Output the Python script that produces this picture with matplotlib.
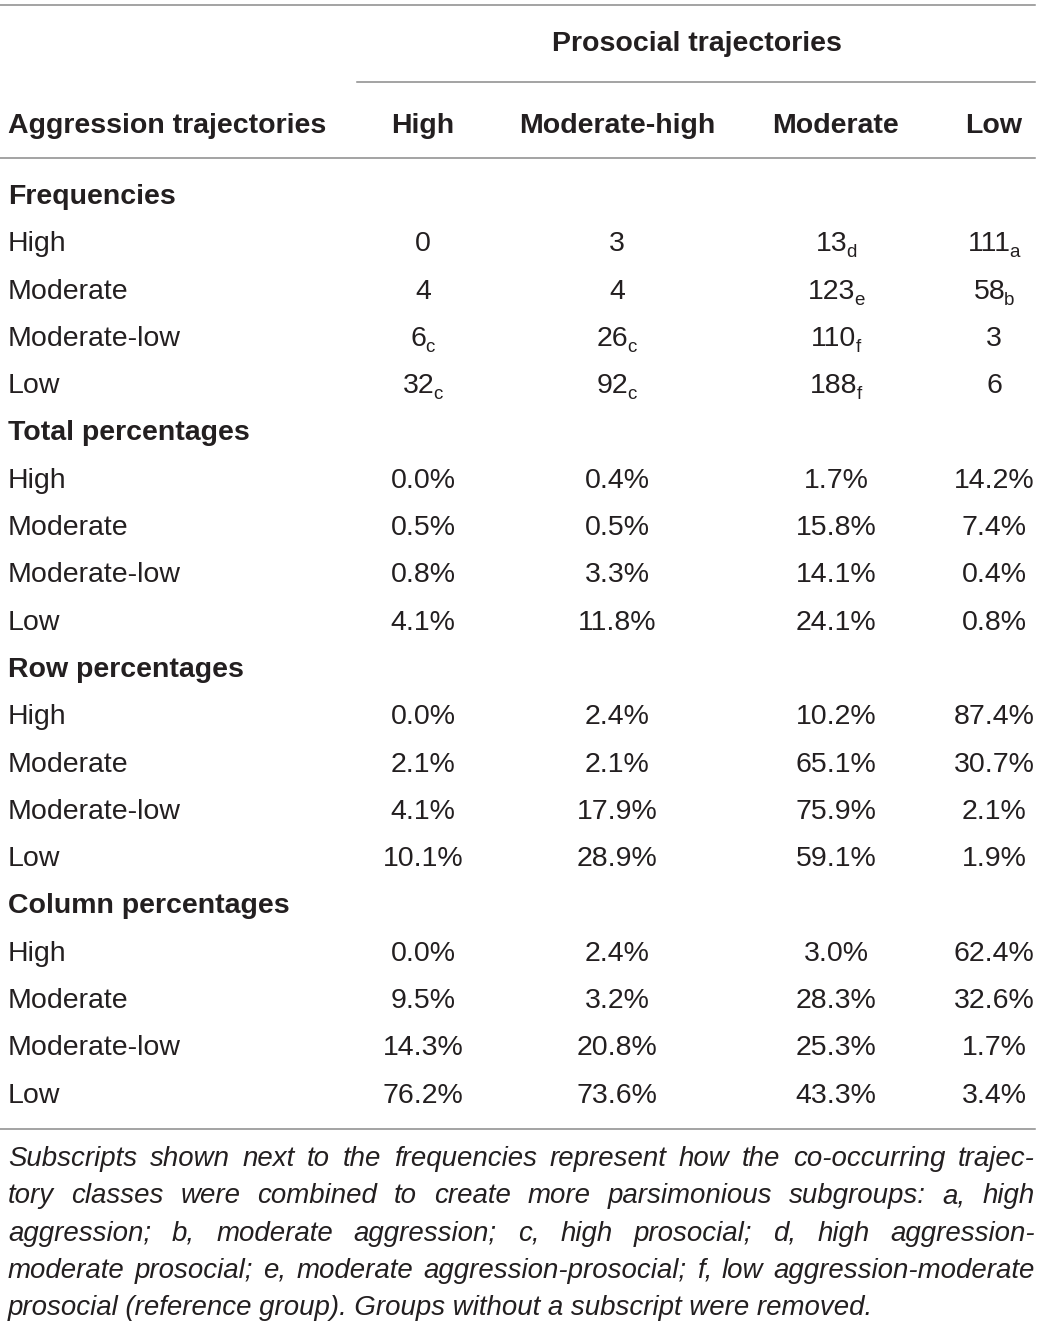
import matplotlib
matplotlib.use("Agg")
import matplotlib.pyplot as plt

# ---- table data ----
col_labels = ["High", "Moderate-high", "Moderate", "Low"]
row_labels = ["High", "Moderate", "Moderate-low", "Low"]
sections = ["Frequencies", "Total percentages", "Row percentages", "Column percentages"]

freq = [[0, 3, 13, 111], [4, 4, 123, 58], [6, 26, 110, 3], [32, 92, 188, 6]]
freq_sub = [["", "", "d", "a"], ["", "", "e", "b"], ["c", "c", "f", ""], ["c", "c", "f", ""]]
total_pct = [[0.0, 0.4, 1.7, 14.2], [0.5, 0.5, 15.8, 7.4], [0.8, 3.3, 14.1, 0.4], [4.1, 11.8, 24.1, 0.8]]
row_pct = [[0.0, 2.4, 10.2, 87.4], [2.1, 2.1, 65.1, 30.7], [4.1, 17.9, 75.9, 2.1], [10.1, 28.9, 59.1, 1.9]]
col_pct = [[0.0, 2.4, 3.0, 62.4], [9.5, 3.2, 28.3, 32.6], [14.3, 20.8, 25.3, 1.7], [76.2, 73.6, 43.3, 3.4]]

footnote = [
    "Subscripts shown next to the frequencies represent how the co-occurring trajec-",
    "tory classes were combined to create more parsimonious subgroups: a, high",
    "aggression; b, moderate aggression; c, high prosocial; d, high aggression-",
    "moderate prosocial; e, moderate aggression-prosocial; f, low aggression-moderate",
    "prosocial (reference group). Groups without a subscript were removed.",
]

W, H = 1042, 1327
FONT = "Liberation Sans"
FS = 20.5
TXT = "#231f20"
RULE = "#8a8a8a"

fig = plt.figure(figsize=(W / 100, H / 100), dpi=100)
ax = fig.add_axes([0, 0, 1, 1])
ax.set_xlim(0, W)
ax.set_ylim(H, 0)
ax.axis("off")
renderer = fig.canvas.get_renderer()

col_x = [423, 617, 836, 994]
left_x = 8
right_x = 1035


def width_of(t):
    return t.get_window_extent(renderer).width


def cell(x, y, main, sub=""):
    t = ax.text(x, y, main, fontsize=FS, family=FONT, color=TXT, ha="left", va="baseline")
    wm = width_of(t)
    ws = 0
    s = None
    if sub:
        s = ax.text(x, y + 6, sub, fontsize=FS * 0.66, family=FONT, color=TXT,
                    ha="left", va="baseline")
        ws = width_of(s) - 1
    x0 = x - (wm + ws) / 2
    t.set_x(x0)
    if s is not None:
        s.set_x(x0 + wm - 1)


# rules
ax.plot([0, right_x], [5, 5], color=RULE, lw=1.1)
ax.plot([357, right_x], [82, 82], color=RULE, lw=1.1)
ax.plot([0, right_x], [158, 158], color=RULE, lw=1.1)
ax.plot([0, right_x], [1129, 1129], color=RULE, lw=1.1)

# header
ax.text(697, 51, "Prosocial trajectories", fontsize=FS, family=FONT, weight="bold",
        color=TXT, ha="center", va="baseline")
ax.text(left_x, 133, "Aggression trajectories", fontsize=FS, family=FONT, weight="bold",
        color=TXT, ha="left", va="baseline")
for x, lab in zip(col_x, col_labels):
    ax.text(x, 133, lab, fontsize=FS, family=FONT, weight="bold", color=TXT,
            ha="center", va="baseline")

# body
blocks = [freq, total_pct, row_pct, col_pct]
step = 47.3
y = 204
for k, (name, block) in enumerate(zip(sections, blocks)):
    ax.text(left_x, y, name, fontsize=FS, family=FONT, weight="bold", color=TXT,
            ha="left", va="baseline")
    y += step
    for i, rl in enumerate(row_labels):
        ax.text(left_x, y, rl, fontsize=FS, family=FONT, color=TXT, ha="left", va="baseline")
        for j, x in enumerate(col_x):
            v = block[i][j]
            if k == 0:
                cell(x, y, str(v), freq_sub[i][j])
            else:
                cell(x, y, f"{v:.1f}%")
        y += step

# footnote, justified
fy = 1166
for n, line in enumerate(footnote):
    words = line.split(" ")
    if n == len(footnote) - 1:
        ax.text(left_x, fy, line, fontsize=FS * 0.97, family=FONT, style="italic",
                color=TXT, ha="left", va="baseline")
    else:
        objs = [ax.text(0, fy, w, fontsize=FS * 0.97, family=FONT, style="italic",
                        color=TXT, ha="left", va="baseline") for w in words]
        widths = [width_of(o) for o in objs]
        gap = (right_x - left_x - sum(widths)) / (len(words) - 1)
        xx = left_x
        for o, w in zip(objs, widths):
            o.set_x(xx)
            xx += w + gap
    fy += 37.3

fig.savefig("out.png", dpi=100)
